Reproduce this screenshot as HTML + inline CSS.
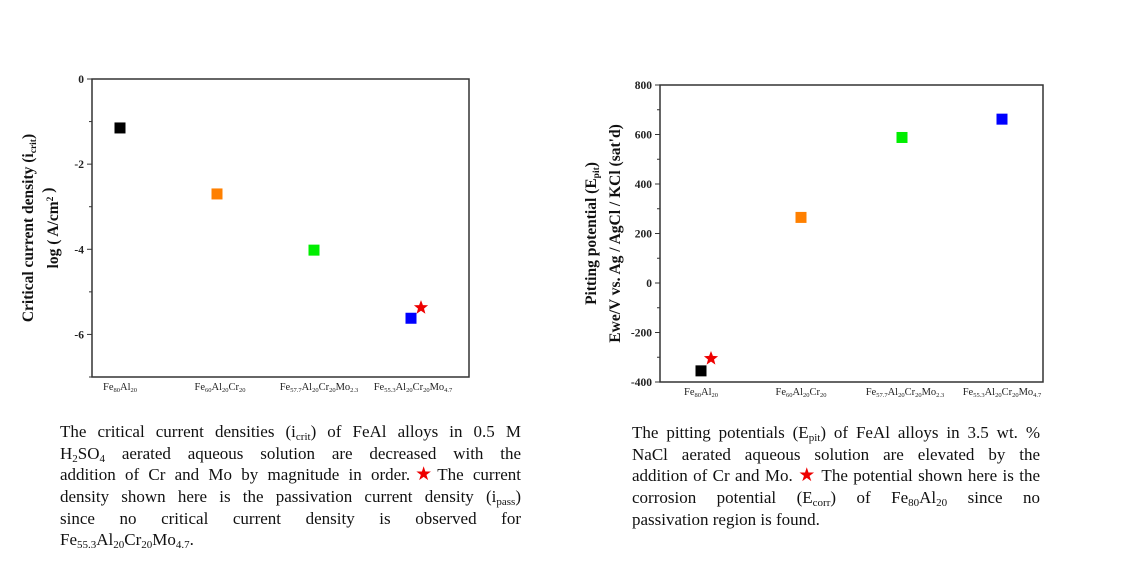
<!DOCTYPE html>
<html><head><meta charset="utf-8">
<style>
html,body{margin:0;padding:0;background:#fff;}
body{width:1124px;height:571px;position:relative;overflow:hidden;font-family:"Liberation Serif",serif;}
.para{position:absolute;font-size:17px;color:#111;}
.ln{height:21.7px;line-height:21.7px;white-space:nowrap;text-align:justify;text-align-last:justify;}
.ln.last{text-align-last:left;}
sub{font-size:11px;vertical-align:-3px;line-height:0;}
sup{font-size:11px;line-height:0;}
.star{color:#e00;font-size:19px;}
svg{position:absolute;left:0;top:0;}
</style></head><body>
<svg id="chart" width="1124" height="571" font-family="Liberation Serif, serif"></svg>

<div class="para" style="left:60px;top:421px;width:461px;">
<div class="ln">The critical current densities (i<sub>crit</sub>) of FeAl alloys in 0.5 M</div>
<div class="ln">H<sub>2</sub>SO<sub>4</sub> aerated aqueous solution are decreased with the</div>
<div class="ln">addition of Cr and Mo by magnitude in order.<span class="star">★</span>The current</div>
<div class="ln">density shown here is the passivation current density (i<sub>pass</sub>)</div>
<div class="ln">since no critical current density is observed for</div>
<div class="ln last">Fe<sub>55.3</sub>Al<sub>20</sub>Cr<sub>20</sub>Mo<sub>4.7</sub>.</div>
</div>

<div class="para" style="left:632px;top:422px;width:408px;">
<div class="ln">The pitting potentials (E<sub>pit</sub>) of FeAl alloys in 3.5 wt. %</div>
<div class="ln">NaCl aerated aqueous solution are elevated by the</div>
<div class="ln">addition of Cr and Mo. <span class="star">★</span> The potential shown here is the</div>
<div class="ln">corrosion potential (E<sub>corr</sub>) of Fe<sub>80</sub>Al<sub>20</sub> since no</div>
<div class="ln last">passivation region is found.</div>
</div>

<script>
const categories = [["Fe","80","Al","20"],["Fe","60","Al","20","Cr","20"],["Fe","57.7","Al","20","Cr","20","Mo","2.3"],["Fe","55.3","Al","20","Cr","20","Mo","4.7"]];
const colors = ["#000000","#ff8000","#00ee00","#0000ff"];
const leftValues = [-1.15, -2.7, -4.02, -5.62];
const leftStar = [3, -5.37];
const leftTicks = [0, -2, -4, -6];
const rightValues = [-355, 265, 588, 662];
const rightStar = [0, -305];
const rightTicks = [800, 600, 400, 200, 0, -200, -400];

const svg = document.getElementById('chart');
const NS = 'http://www.w3.org/2000/svg';
function mk(tag, attrs, parent){const e=document.createElementNS(NS,tag);for(const k in attrs)e.setAttribute(k,attrs[k]);(parent||svg).appendChild(e);return e;}

function star(cx, cy, r, parent){
  let pts=[];for(let i=0;i<10;i++){const a=-Math.PI/2+i*Math.PI/5;const rr=i%2?r*0.42:r;pts.push((cx+rr*Math.cos(a)).toFixed(1)+','+(cy+rr*Math.sin(a)).toFixed(1));}
  return mk('polygon',{points:pts.join(' '),fill:'#ee0000'},parent);
}

function catLabel(g, parts, cx, y){
  const t=mk('text',{x:cx,y:y,'text-anchor':'middle','font-size':'10.5',fill:'#222'},g);
  parts.forEach((p,i)=>{const s=mk('tspan',i%2?{'font-size':'6.5','dy':'2'}:{'dy':i?'-2':'0'},t);s.textContent=p;});
  return t;
}

function drawChart(cfg){
  const g=mk('g',{});
  
  
  const {x0,x1,y0,y1,vmin,vmax,xs,values,ticks,minor,starPt,titles,tx} = cfg;
  const Y=v=>y1-(v-vmin)/(vmax-vmin)*(y1-y0);
  const frame=mk('rect',{x:x0,y:y0,width:x1-x0,height:y1-y0,fill:'none',stroke:'#333','stroke-width':1.5},g);
  
  
  minor.forEach(v=>mk('line',{x1:x0-3,x2:x0,y1:Y(v),y2:Y(v),stroke:'#333'},g));
  ticks.forEach(v=>{
    mk('line',{x1:x0-5,x2:x0,y1:Y(v),y2:Y(v),stroke:'#333'},g);
    const t=mk('text',{x:x0-8,y:Y(v)+4,'text-anchor':'end','font-size':'11.5','font-weight':'bold',fill:'#222'},g);
    t.textContent=v;
    
    
  });
  values.forEach((v,i)=>{
    const r=mk('rect',{x:xs[i]-5.5,y:Y(v)-5.5,width:11,height:11,fill:colors[i]},g);
    
    
    const l=catLabel(g,categories[i],xs[i]+cfg.lx[i],cfg.ly);
    
    
  });
  const s=star(xs[starPt[0]]+10,Y(starPt[1]),7.5,g);
  
  
  titles.forEach((tt,i)=>{
    const t=mk('text',{transform:`translate(${tx[i]},${(y0+y1)/2}) rotate(-90)`,'text-anchor':'middle','font-size':'15.5','font-weight':'bold',fill:'#111'},g);
    tt.forEach((p,j)=>{const sp=mk('tspan',p[1]?{'font-size':'9.5','dy':p[1]}:{'dy':j?'-'+(tt[j-1][1]||0):'0'},t);sp.textContent=p[0];});
    
    
  });
}

drawChart({name:'critical-current-chart',x0:92,x1:469,y0:79,y1:377,vmin:-7,vmax:0,
  xs:[120,217,314,411],values:leftValues,ticks:leftTicks,minor:[-1,-3,-5,-7],starPt:leftStar,
  lx:[0,3,5,2],ly:390,tx:[33,58],
  titles:[[["Critical current density (i"],["crit","3"],[")"]],[["log ( A/cm"],["2","-5"],[" )"]]]});
drawChart({name:'pitting-potential-chart',x0:660,x1:1043,y0:85,y1:382,vmin:-400,vmax:800,
  xs:[701,801,902,1002],values:rightValues,ticks:rightTicks,minor:[700,500,300,100,-100,-300],starPt:rightStar,
  lx:[0,0,3,0],ly:395,tx:[596,620],
  titles:[[["Pitting potential (E"],["pit","3"],[")"]],[["Ewe/V vs. Ag / AgCl / KCl (sat'd)"]]]});
</script>
</body></html>
